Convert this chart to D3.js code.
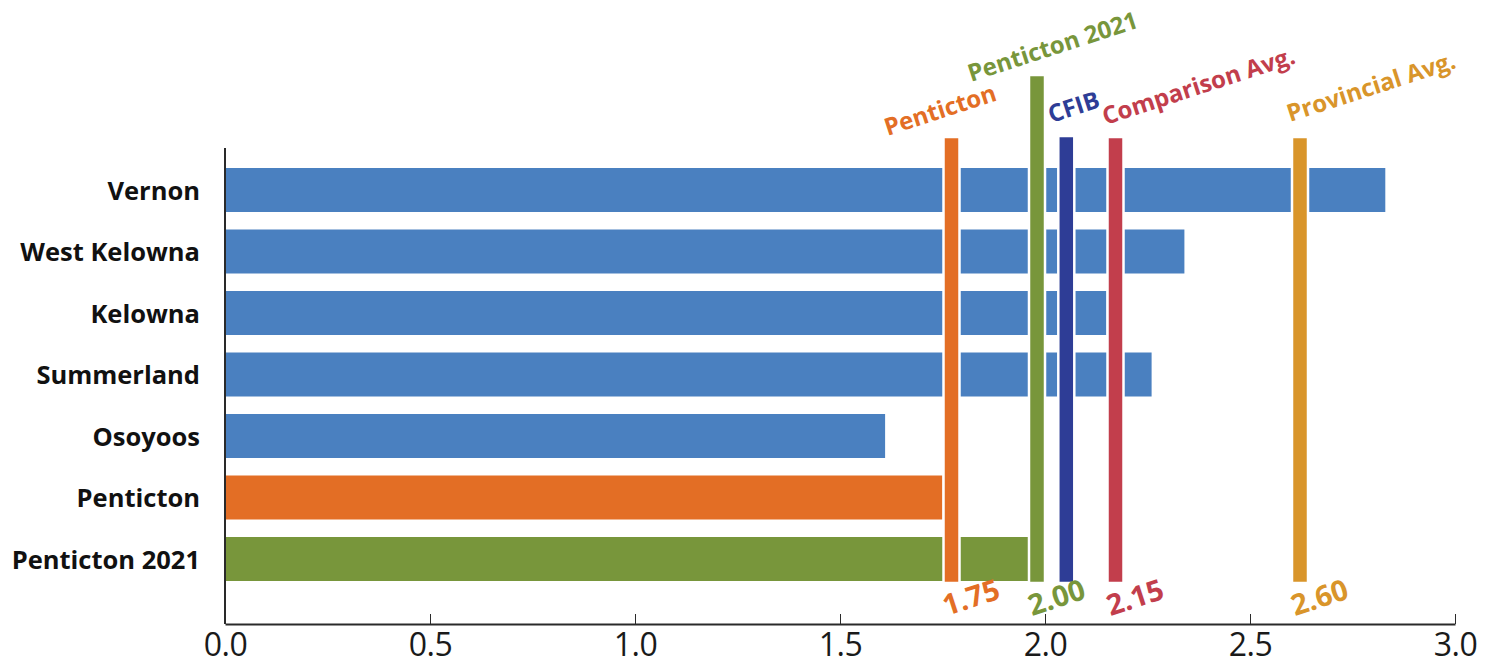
<!DOCTYPE html>
<html>
<head>
<meta charset="utf-8">
<script src="https://cdn.jsdelivr.net/npm/d3@7"></script>
<style>
  html, body { margin: 0; padding: 0; background: #fff; }
  svg { display: block; }
</style>
</head>
<body>
<svg id="chart" width="1496" height="667"></svg>
<script>
// Municipal ratios, one bar per community
const categories = ["Vernon", "West Kelowna", "Kelowna", "Summerland", "Osoyoos", "Penticton", "Penticton 2021"];
const values = [2.83, 2.34, 2.15, 2.26, 1.61, 1.75, 2.00];

// Reference lines drawn over the bars
const markerNames = ["Penticton", "Penticton 2021", "CFIB", "Comparison Avg.", "Provincial Avg."];
const markerValues = [1.75, 2.00, 2.03, 2.15, 2.60];
const markerLabels = ["1.75", "2.00", "", "2.15", "2.60"];

const tickValues = [0.0, 0.5, 1.0, 1.5, 2.0, 2.5, 3.0];

// Styling
const barColor = {"Penticton": "#E36E25", "Penticton 2021": "#78963B"};
const defaultBar = "#4A80C0";
const markerColor = ["#E36E25", "#78963B", "#2E3D96", "#C23E4C", "#D9952A"];
const markerTop = [137, 75, 136, 137, 137];
const markerAlign = ["start", "end", "start", "start", "start"];
const markerW = 16;
const markerBottom = 583;
const labelFont = "'Open Sans', sans-serif";

const svg = d3.select("#chart");

const x = d3.scaleLinear().domain([0, 3]).range([225, 1455]);
const y = d3.scaleBand().domain(categories).range([159.25, 589.75])
  .paddingInner(0.2846).paddingOuter(0.1423);

const axisY = 624;

// Bars
svg.append("g").selectAll("rect")
  .data(categories)
  .join("rect")
  .attr("x", x(0))
  .attr("y", d => y(d))
  .attr("width", (d, i) => x(values[i]) - x(0))
  .attr("height", y.bandwidth())
  .attr("fill", d => barColor[d] || defaultBar);

// Category labels
svg.append("g").selectAll("text")
  .data(categories)
  .join("text")
  .attr("x", 200)
  .attr("y", d => y(d) + y.bandwidth() / 2 + 1)
  .attr("dy", "0.35em")
  .attr("text-anchor", "end")
  .attr("font-family", labelFont)
  .attr("font-weight", 700)
  .attr("font-size", 25.5)
  .attr("fill", "#111")
  .text(d => d);

// Marker bars with white outline
const mx = i => markerAlign[i] === "end" ? x(markerValues[i]) - markerW : x(markerValues[i]) + 1;

svg.append("g").selectAll("rect")
  .data(markerNames)
  .join("rect")
  .attr("x", (d, i) => mx(i))
  .attr("y", (d, i) => markerTop[i])
  .attr("width", markerW)
  .attr("height", (d, i) => markerBottom - markerTop[i])
  .attr("fill", (d, i) => markerColor[i])
  .attr("stroke", "#fff")
  .attr("stroke-width", 2.5);

// Marker names, angled above each line
const nameOffset = [[-56, -1], [-58, 7], [-7, -13], [-2, -12], [-2, -15]];
svg.append("g").selectAll("text")
  .data(markerNames)
  .join("text")
  .attr("transform", (d, i) => {
    const tx = mx(i) + nameOffset[i][0];
    const ty = markerTop[i] + nameOffset[i][1];
    return `translate(${tx},${ty}) rotate(-18)`;
  })
  .attr("font-family", labelFont)
  .attr("font-weight", 700)
  .attr("font-size", 24)
  .attr("fill", (d, i) => markerColor[i])
  .text(d => d);

// Marker values, angled below each line
svg.append("g").selectAll("text")
  .data(markerLabels.map((t, i) => ({t, i})).filter(d => d.t !== ""))
  .join("text")
  .attr("transform", d => `translate(${mx(d.i) + 3},${markerBottom + 33}) rotate(-18)`)
  .attr("font-family", labelFont)
  .attr("font-weight", 700)
  .attr("font-size", 29)
  .attr("fill", d => markerColor[d.i])
  .text(d => d.t);

// Axes
const axisColor = "#2a2a2a";
svg.append("line")
  .attr("x1", x(0)).attr("x2", x(0))
  .attr("y1", 148).attr("y2", axisY)
  .attr("stroke", axisColor).attr("stroke-width", 2);

const xAxis = svg.append("g")
  .attr("transform", `translate(0,${axisY})`)
  .call(d3.axisBottom(x).tickValues(tickValues).tickFormat(d3.format(".1f"))
    .tickSizeInner(-10).tickSizeOuter(0).tickPadding(9));
xAxis.select(".domain").attr("stroke", axisColor).attr("stroke-width", 2);
xAxis.selectAll(".tick line").attr("stroke", axisColor).attr("stroke-width", 1);
xAxis.selectAll(".tick text")
  .attr("font-family", labelFont)
  .attr("font-size", 32)
  .attr("letter-spacing", -0.5)
  .attr("fill", "#1a1a1a");
</script>
</body>
</html>
